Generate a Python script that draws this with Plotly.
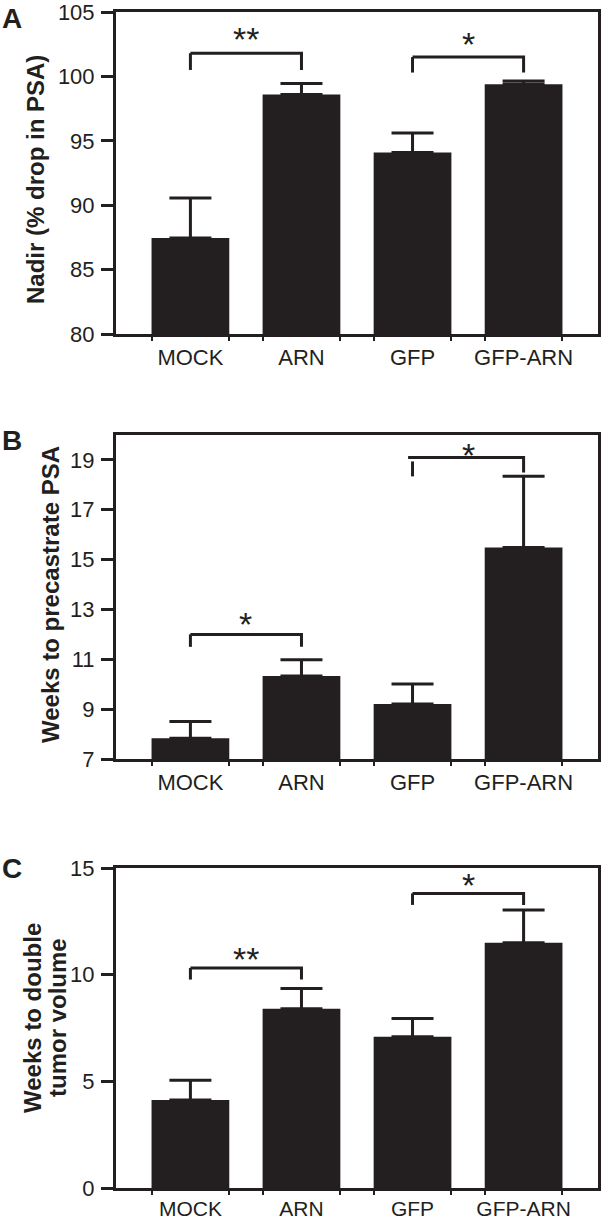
import plotly.graph_objects as go

categories = ["MOCK", "ARN", "GFP", "GFP-ARN"]

# Panel A: Nadir (% drop in PSA)
nadir_mean = [87.45, 98.6, 94.1, 99.4]
nadir_err = [3.1, 0.85, 1.5, 0.25]
# Panel B: Weeks to precastrate PSA
precast_mean = [7.83, 10.33, 9.21, 15.49]
precast_err = [0.67, 0.65, 0.8, 2.85]
# Panel C: Weeks to double tumor volume
double_mean = [4.12, 8.4, 7.09, 11.5]
double_err = [0.93, 0.95, 0.86, 1.53]

# significance brackets: (left idx, right idx, bar height, left leg bottom, right leg bottom, label, label y)
sig_A = [(0, 1, 101.8, 100.5, 100.5, "**", 103.4), (2, 3, 101.5, 100.3, 100.3, "*", 103.0)]
sig_B = [(0, 1, 12.0, 11.5, 11.5, "*", 12.66), (2, 3, 19.1, 18.34, 18.5, "*", 19.43)]
sig_C = [(0, 1, 10.31, 9.77, 9.77, "**", 11.0), (2, 3, 13.81, 13.27, 13.27, "*", 14.5)]

y_titles = ["Nadir (% drop in PSA)", "Weeks to precastrate PSA"]
c_title_lines = ["Weeks to double", "tumor volume"]
panel_letters = ["A", "B", "C"]

INK = "#231f20"
FONT = "Arial, Liberation Sans, sans-serif"
W, H = 601, 1223


def px(xp):
    return xp / W


def py(yp):
    return 1 - yp / H


panels = [
    dict(mean=nadir_mean, err=nadir_err, sig=sig_A, yrange=[80, 105], ticks=[80, 85, 90, 95, 100, 105],
         top=12, bottom=334, letter_y=18, xfont=22, xstand=2),
    dict(mean=precast_mean, err=precast_err, sig=sig_B, yrange=[7, 20], ticks=[7, 9, 11, 13, 15, 17, 19],
         top=435, bottom=759, letter_y=440, xfont=22, xstand=2),
    dict(mean=double_mean, err=double_err, sig=sig_C, yrange=[0, 15], ticks=[0, 5, 10, 15],
         top=868, bottom=1188, letter_y=868, xfont=21, xstand=0),
]

xpos = list(range(len(categories)))
bar_w = 0.7
edges = []
for p in xpos:
    edges += [p - bar_w / 2, p + bar_w / 2]

fig = go.Figure()
layout = dict(width=W, height=H, margin=dict(l=0, r=0, t=0, b=0, autoexpand=False),
              paper_bgcolor="white", plot_bgcolor="white", showlegend=False,
              font=dict(family=FONT, color=INK), annotations=[])

for i, pn in enumerate(panels):
    n = "" if i == 0 else str(i + 1)
    xa, ya = "x" + n, "y" + n
    fig.add_trace(go.Bar(
        x=xpos, y=[m - pn["yrange"][0] for m in pn["mean"]], base=pn["yrange"][0],
        width=bar_w, marker=dict(color=INK, line=dict(width=0)),
        error_y=dict(type="data", symmetric=False, array=pn["err"], arrayminus=[0] * 4,
                     color=INK, thickness=3, width=21),
        xaxis=xa, yaxis=ya, hoverinfo="skip"))
    for (a, b, yb, la, lb, lab, ly) in pn["sig"]:
        if i == 1 and a == 2:
            bx = [a, a, None, a - 0.04, b, b]
            by = [la, la + 0.6, None, yb, yb, lb]
        else:
            bx = [a, a, None, a, b, b]
            by = [yb, la, None, yb, yb, lb]
        fig.add_trace(go.Scatter(x=bx, y=by, mode="lines", line=dict(color=INK, width=3),
                                 xaxis=xa, yaxis=ya, hoverinfo="skip"))
        layout["annotations"].append(dict(
            x=(a + b) / 2, y=ly, xref=xa, yref=ya, text=lab, showarrow=False,
            font=dict(size=34, family=FONT, color=INK), xanchor="center", yanchor="middle", yshift=-6))
    layout["xaxis" + n] = dict(domain=[px(116), px(598)], range=[-0.67, 3.67], anchor=ya,
                               automargin=False, ticklabeloverflow="allow",
                               tickvals=xpos, ticktext=categories, ticks="", showline=True,
                               linecolor=INK, linewidth=3, mirror=True, showgrid=False, zeroline=False,
                               tickfont=dict(size=pn["xfont"], family=FONT, color=INK),
                               ticklabelstandoff=pn["xstand"],
                               minor=dict(tickvals=edges, ticks="outside", ticklen=4, tickwidth=2,
                                          tickcolor=INK, showgrid=False))
    layout["yaxis" + n] = dict(domain=[py(pn["bottom"]), py(pn["top"])], range=pn["yrange"], anchor=xa,
                               automargin=False, ticklabeloverflow="allow",
                               tickvals=pn["ticks"], ticks="outside", ticklen=12, tickwidth=3,
                               tickcolor=INK, showline=True, linecolor=INK, linewidth=3, mirror=True,
                               showgrid=False, zeroline=False,
                               tickfont=dict(size=22, family=FONT, color=INK), ticklabelstandoff=2)
    layout["annotations"].append(dict(
        x=px(12), y=py(pn["letter_y"]), xref="paper", yref="paper",
        text="<b>%s</b>" % panel_letters[i], showarrow=False, xanchor="center", yanchor="middle",
        font=dict(size=28, family=FONT, color=INK)))

layout["annotations"].append(dict(x=px(35), y=py(180), xref="paper", yref="paper",
                                  text="<b>%s</b>" % y_titles[0], textangle=-90, showarrow=False,
                                  xanchor="center", yanchor="middle",
                                  font=dict(size=24, family=FONT, color=INK)))
layout["annotations"].append(dict(x=px(50), y=py(595), xref="paper", yref="paper",
                                  text="<b>%s</b>" % y_titles[1], textangle=-90, showarrow=False,
                                  xanchor="center", yanchor="middle",
                                  font=dict(size=24, family=FONT, color=INK)))
for k, xc in enumerate([32, 57]):
    layout["annotations"].append(dict(x=px(xc), y=py(1018), xref="paper", yref="paper",
                                      text="<b>%s</b>" % c_title_lines[k], textangle=-90, showarrow=False,
                                      xanchor="center", yanchor="middle",
                                      font=dict(size=24, family=FONT, color=INK)))

fig.update_layout(**layout)
fig.write_html("out.html", config={"displayModeBar": False},
               post_script="document.body.style.margin='0';document.body.style.overflow='hidden';")
